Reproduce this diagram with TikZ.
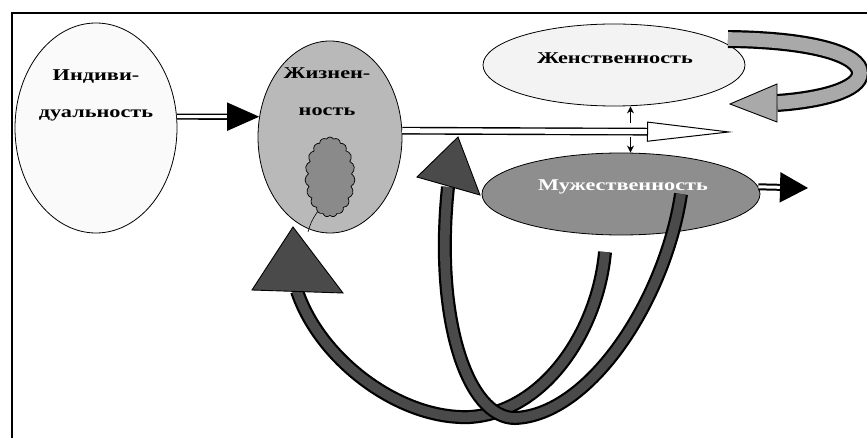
\documentclass[tikz,border=0pt]{standalone}
\usepackage{fontspec}
\newfontfamily\lblfont[FakeStretch=1.35]{Liberation Serif}
\usetikzlibrary{shapes.geometric,shapes.symbols,arrows.meta,calc,positioning}
\definecolor{indfill}{HTML}{FAFAFA}
\definecolor{zhfill}{HTML}{B9B9B9}
\definecolor{femfill}{HTML}{F3F3F3}
\definecolor{mascfill}{HTML}{8E8E8E}
\definecolor{cloudfill}{HTML}{8A8A8A}
\definecolor{darkfill}{HTML}{4A4A4A}
\definecolor{loopfill}{HTML}{A9A9A9}

\begin{document}
\begin{tikzpicture}[x=1pt,y=-1pt,
  every node/.style={inner sep=0},
  oval/.style={draw,ellipse,line width=.8pt},
  lbl/.style={font=\lblfont\bfseries\fontsize{16.5}{18}\selectfont},
  band/.style={draw=black,postaction={draw=#1,line width=\pgflinewidth-2.2pt}},
  head/.style={draw=black,fill=#1,line width=.9pt,line join=miter}]

\useasboundingbox (0,0) rectangle (867,438);
\draw[line width=1.2pt] (12,438) -- (12,13) -- (867,13);

\node[oval,fill=indfill,minimum width=162pt,minimum height=210pt] (ind) at (96,128) {};
\node[oval,fill=zhfill,minimum width=144pt,minimum height=192pt] (zh) at (330,137) {};
\node[oval,fill=femfill,minimum width=262pt,minimum height=82pt] (fem) at (614,65) {};
\node[oval,fill=mascfill,minimum width=278pt,minimum height=82pt] (masc) at (621,194) {};

\node[cloud,cloud puffs=19,cloud puff arc=120,aspect=.6,draw,line width=.7pt,fill=cloudfill,
  minimum width=50pt,minimum height=80pt] (cl) at (330,177) {};
\draw[line width=.6pt] (cl.250) .. controls (311,222) .. (308,232);

\node[lbl] (ind1) at (96,77) {Индиви-};
\node[lbl] (ind2) at (96,115) {дуальность};
\node[lbl] (zh1) at (327,73) {Жизнен-};
\node[lbl] (zh2) at (327,112) {ность};
\node[lbl] (femt) at (615,58) {Женственность};

% arrows between the ovals
\coordinate (tipL) at (733,132);
\coordinate (rtip) at (808,188);
\draw[line width=1.6pt,double=white,double distance=3pt,-{Triangle[length=32pt,width=28pt]}]
  (ind.8) -- (zh.164);
\draw[line width=1.4pt,double=white,double distance=5pt,
  -{Triangle[fill=white,length=86pt,width=20pt,line width=1pt]}]
  (zh.5) -- coordinate[pos=.69] (mid) (tipL);
\draw[line width=1.4pt,-{Stealth[length=7pt,width=7pt]}] ([yshift=9pt]mid) -- (mid |- fem.south);
\draw[line width=1.4pt,-{Stealth[length=7pt,width=7pt]}] ([yshift=-5pt]mid) -- (mid |- masc.north);
\draw[line width=2pt,double=white,double distance=3pt,-{Triangle[length=28pt,width=30pt]}]
  (masc.3) -- (rtip);

% loop round Zhenstvennost
\coordinate (la) at (728,39);
\coordinate (lb) at (777,103);
\coordinate (lt) at (730,104);
\draw[band=loopfill,line width=18pt] (la) .. controls (815,40) and (860,55) .. (860,73)
  .. controls (860,90) and (820,100) .. (lb);
\filldraw[head=loopfill] ($(lb)+(0,-19)$) -- (lt) -- ($(lb)+(0,19)$) -- cycle;

% big dark arrows
\coordinate (ta) at (293,227);
\coordinate (ba) at (297,291);
\coordinate (tb) at (458,137);
\coordinate (bb) at (448,187);
\draw[band=darkfill,line width=14pt] (605,252) .. controls (598,330) and (545,412) .. (470,417)
  .. controls (400,420) and (320,360) .. (ba);
\filldraw[head=darkfill] (ta) -- (252,290) -- (343,293) -- cycle;
\draw[band=darkfill,line width=14pt] ([xshift=60pt]masc.center) .. controls (665,300) and (590,415) .. (515,418)
  .. controls (468,418) and (434,320) .. (bb);
\filldraw[head=darkfill] (tb) -- (417,177) -- (480,195) -- cycle;

\node[lbl,text=white] (masct) at (623,187) {Мужественность};
\end{tikzpicture}
\end{document}
